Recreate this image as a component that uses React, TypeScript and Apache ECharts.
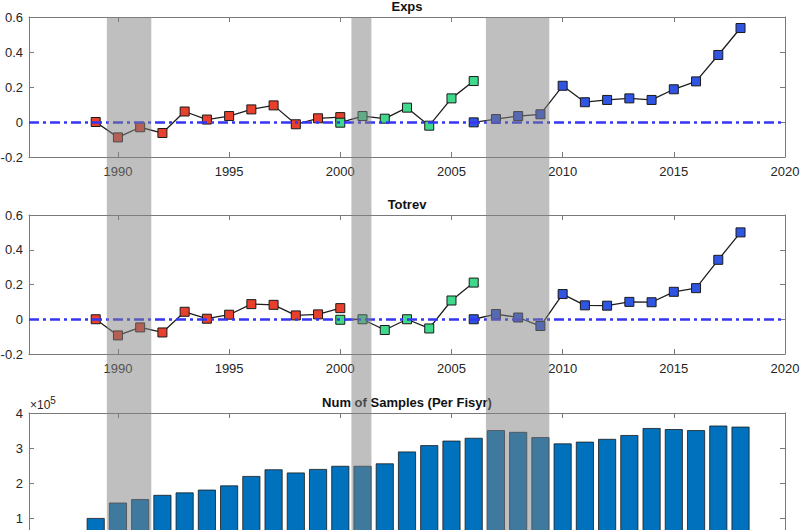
import React, { useEffect, useRef } from "react";
import * as echarts from "echarts";

const FONT = "'Liberation Sans', Arial, Helvetica, sans-serif";

const YEARS_RED = [1989, 1990, 1991, 1992, 1993, 1994, 1995, 1996, 1997, 1998, 1999, 2000];
const YEARS_GREEN = [2000, 2001, 2002, 2003, 2004, 2005, 2006];
const YEARS_BLUE = [2006, 2007, 2008, 2009, 2010, 2011, 2012, 2013, 2014, 2015, 2016, 2017, 2018];

const EXPS_RED = [0.0, -0.088, -0.03, -0.063, 0.06, 0.014, 0.034, 0.072, 0.095, -0.013, 0.021, 0.028];
const EXPS_GREEN = [-0.004, 0.034, 0.019, 0.082, -0.021, 0.135, 0.234];
const EXPS_BLUE = [-0.002, 0.017, 0.034, 0.044, 0.207, 0.113, 0.126, 0.135, 0.126, 0.187, 0.232, 0.383, 0.537];

const TOTREV_RED = [0.0, -0.093, -0.047, -0.076, 0.043, 0.003, 0.026, 0.087, 0.083, 0.022, 0.028, 0.064];
const TOTREV_GREEN = [-0.003, 0.0, -0.062, 0.0, -0.053, 0.108, 0.211];
const TOTREV_BLUE = [0.0, 0.03, 0.01, -0.039, 0.145, 0.08, 0.078, 0.1, 0.098, 0.158, 0.179, 0.342, 0.5];

const SAMPLE_YEARS = [
  1989, 1990, 1991, 1992, 1993, 1994, 1995, 1996, 1997, 1998, 1999, 2000, 2001, 2002, 2003,
  2004, 2005, 2006, 2007, 2008, 2009, 2010, 2011, 2012, 2013, 2014, 2015, 2016, 2017, 2018,
];
const SAMPLES = [
  100000, 144000, 154000, 166000, 173000, 181000, 193000, 220000, 239000, 230000, 240000, 249000,
  249000, 256000, 290000, 308000, 321000, 329000, 351000, 346000, 331000, 313000, 318000, 326000,
  337000, 357000, 354000, 351000, 364000, 361000,
];

const X_TICKS = [1990, 1995, 2000, 2005, 2010, 2015, 2020];
const RECESSIONS: [number, number][] = [
  [1989.5, 1991.5],
  [2000.5, 2001.4],
  [2006.55, 2009.4],
];

const TITLES = ["Exps", "Totrev", "Num of Samples (Per Fisyr)"];

const FRAME = "#7a7a7a";
const TEXT = "#262626";
const RED = "#e8402c";
const GREEN = "#3fd98c";
const BLUE = "#2f55e2";

function zip(xs: number[], ys: number[]) {
  return xs.map((x, i) => [x, ys[i]]);
}

export default function App() {
  const ref = useRef<HTMLDivElement>(null);

  useEffect(() => {
    document.body.style.margin = "0";
    if (!ref.current) return;
    const chart = echarts.init(ref.current, undefined, { renderer: "svg" });

    const grids = [
      { left: 29, top: 17, width: 756, height: 140, outerBoundsMode: "none", containLabel: false },
      { left: 29, top: 215, width: 756, height: 139, outerBoundsMode: "none", containLabel: false },
      { left: 29, top: 413, width: 756, height: 140, outerBoundsMode: "none", containLabel: false },
    ];

    const tick = { show: true, inside: true, length: 5, lineStyle: { color: FRAME, width: 1 } };
    const line = { show: true, onZero: false, lineStyle: { color: FRAME, width: 1 } };

    const xAxes: any[] = [];
    const yAxes: any[] = [];
    grids.forEach((_, i) => {
      const isBar = i === 2;
      xAxes.push({
        type: "value",
        gridIndex: i,
        min: 1986,
        max: 2020,
        position: "bottom",
        axisLine: line,
        axisTick: { ...tick, customValues: X_TICKS },
        axisLabel: {
          show: !isBar,
          customValues: X_TICKS,
          color: TEXT,
          fontSize: 13,
          fontFamily: FONT,
          margin: 8,
          formatter: (v: number) => String(v),
        },
        splitLine: { show: false },
      });
      xAxes.push({
        type: "value",
        gridIndex: i,
        min: 1986,
        max: 2020,
        position: "top",
        axisLine: line,
        axisTick: { ...tick, customValues: X_TICKS },
        axisLabel: { show: false },
        splitLine: { show: false },
      });
      const yBase = isBar
        ? { min: 0, max: 400000, interval: 100000 }
        : { min: -0.2, max: 0.6, interval: 0.2 };
      yAxes.push({
        type: "value",
        gridIndex: i,
        ...yBase,
        position: "left",
        axisLine: line,
        axisTick: tick,
        axisLabel: {
          color: TEXT,
          fontSize: 13,
          fontFamily: FONT,
          margin: 6,
          showMinLabel: !isBar,
          formatter: (v: number) =>
            isBar ? String(Math.round(v / 100000)) : String(Math.round(v * 10) / 10),
        },
        splitLine: { show: false },
      });
      yAxes.push({
        type: "value",
        gridIndex: i,
        ...yBase,
        position: "right",
        axisLine: line,
        axisTick: tick,
        axisLabel: { show: false },
        splitLine: { show: false },
      });
    });

    const lineSeries = (idx: number, xs: number[], ys: number[], color: string) => ({
      type: "line",
      xAxisIndex: idx * 2,
      yAxisIndex: idx * 2,
      data: zip(xs, ys),
      symbol: "rect",
      symbolSize: 9,
      showSymbol: true,
      z: 3,
      lineStyle: { color: "#1e1e1e", width: 1.3 },
      itemStyle: { color, borderColor: "#1a1a1a", borderWidth: 1 },
    });

    const zeroLine = (idx: number) => ({
      type: "line",
      xAxisIndex: idx * 2,
      yAxisIndex: idx * 2,
      data: [],
      z: 10,
      markLine: {
        silent: true,
        symbol: ["none", "none"],
        label: { show: false },
        lineStyle: { color: "#3535f5", width: 2.5, type: [10, 4, 3, 4] },
        data: [{ yAxis: 0 }],
      },
    });

    const series: any[] = [
      lineSeries(0, YEARS_RED, EXPS_RED, RED),
      lineSeries(0, YEARS_GREEN, EXPS_GREEN, GREEN),
      lineSeries(0, YEARS_BLUE, EXPS_BLUE, BLUE),
      zeroLine(0),
      lineSeries(1, YEARS_RED, TOTREV_RED, RED),
      lineSeries(1, YEARS_GREEN, TOTREV_GREEN, GREEN),
      lineSeries(1, YEARS_BLUE, TOTREV_BLUE, BLUE),
      zeroLine(1),
      {
        type: "bar",
        xAxisIndex: 4,
        yAxisIndex: 4,
        data: zip(SAMPLE_YEARS, SAMPLES),
        barWidth: 18,
        itemStyle: { color: "#0072bd", borderColor: "#1a1a1a", borderWidth: 0.8 },
      },
    ];

    const titleTops = [0, 198, 396];
    const titles: any[] = TITLES.map((t, i) => ({
      text: t,
      left: 407,
      top: titleTops[i],
      textAlign: "center",
      padding: 0,
      textStyle: { fontSize: 13, fontWeight: "bold", color: "#111", fontFamily: FONT },
    }));
    titles.push({
      text: "{a|×10}{b|5}",
      left: 30,
      top: 393,
      padding: 0,
      textStyle: {
        fontFamily: FONT,
        fontWeight: "normal",
        rich: {
          a: { fontSize: 12, color: TEXT, fontFamily: FONT, fontWeight: "normal", padding: [6, 0, 0, 0] },
          b: { fontSize: 10, color: TEXT, fontFamily: FONT, fontWeight: "normal", padding: [0, 0, 4, 0] },
        },
      },
    });

    chart.setOption({
      animation: false,
      backgroundColor: "#ffffff",
      title: titles,
      grid: grids,
      xAxis: xAxes,
      yAxis: yAxes,
      series,
    });

    const topY = chart.convertToPixel({ yAxisIndex: 0 }, 0.6) as number;
    const bands = RECESSIONS.map(([a, b]) => {
      const x1 = chart.convertToPixel({ xAxisIndex: 0 }, a) as number;
      const x2 = chart.convertToPixel({ xAxisIndex: 0 }, b) as number;
      return {
        type: "rect",
        z: 100,
        silent: true,
        shape: { x: x1, y: topY, width: x2 - x1, height: 530 - topY },
        style: { fill: "rgba(128,128,128,0.5)" },
      };
    });
    chart.setOption({ graphic: bands });

    return () => chart.dispose();
  }, []);

  return <div ref={ref} style={{ width: 800, height: 530 }} />;
}
